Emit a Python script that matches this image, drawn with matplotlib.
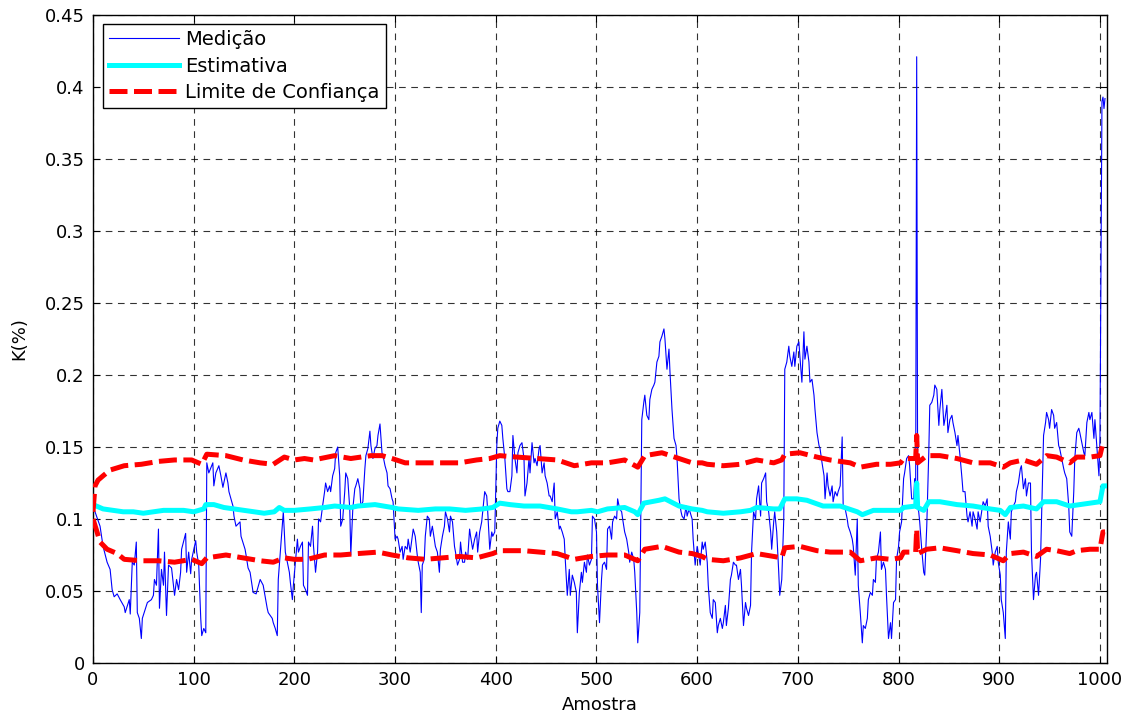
import matplotlib
matplotlib.use("Agg")
import matplotlib.pyplot as plt

plt.rcParams['font.family'] = ['DejaVu Sans']

# Measurement (Medição): sample index and K(%)
med_x = [0, 7, 10, 14, 17, 19, 21, 24, 27, 31, 32, 36, 37, 39, 41, 43, 44, 46, 48, 49,
         53, 54, 58, 60, 61, 63, 65, 66, 68, 70, 71, 73, 75, 78, 81, 83, 85, 87, 88, 92,
         93, 95, 97, 98, 102, 103, 105, 107, 108, 110, 112, 113, 115, 119, 120, 122, 125, 127, 129, 132,
         134, 135, 139, 140, 142, 146, 147, 151, 152, 154, 156, 159, 162, 166, 169, 173, 174, 178, 179, 181,
         183, 184, 188, 189, 191, 195, 196,
         198, 199, 203, 204, 206, 208, 209, 211, 213, 214, 216, 218, 219, 221, 223, 224, 226, 228, 230, 231,
         233, 235, 236, 238, 240, 241, 243, 245, 246, 248, 250, 251, 253, 255, 256, 258, 260, 261, 263, 265,
         266, 268, 270, 271, 273, 275, 276, 278, 280, 282, 283, 285, 287, 288, 290, 292, 293, 295, 297, 298,
         300, 302, 303, 305, 307, 308, 310, 312, 313, 315, 317, 318, 320, 322, 323, 325, 326, 327, 329, 330,
         332, 334, 335, 337, 339, 340, 342, 344, 345, 347, 349, 350, 352, 354, 355, 357, 359, 360, 362, 364,
         365, 367, 369, 370, 372, 374, 375, 377, 379, 381, 382, 384, 386, 387, 389, 391, 392, 394, 396, 397,
         399, 401, 402, 404, 406, 407,
         409, 411, 412, 414, 416, 417, 419, 421, 422, 424, 426, 428, 429, 431, 433, 434, 436, 438, 439, 441,
         443, 444, 446, 448, 449, 451, 453, 454, 456, 458, 459, 461, 463, 464, 466, 468, 469, 471, 473, 474,
         476, 478, 480, 481, 483, 485, 486, 488, 490, 491, 493, 495, 496, 498, 500, 501, 503, 505, 506, 508,
         510, 511, 513, 515, 516, 518, 520, 521, 523, 525, 526, 528, 530, 532, 533, 535, 537, 538, 540, 541,
         543, 545, 547, 548, 550, 552, 553, 555, 557, 558, 560, 562, 563, 565, 567, 568, 570, 572, 573, 575,
         577, 579, 580, 582, 584, 585, 587, 589, 590, 592,
         595, 596, 598, 600, 601, 603, 605, 606, 608, 610, 611, 613, 615, 616, 618, 620, 621, 623, 625, 626,
         628, 629, 631, 633, 634, 636, 638, 639, 641, 643, 644, 646, 648, 649, 651, 653, 654, 656, 658, 659,
         661, 663, 664, 666, 668, 669, 671, 673, 674, 676, 677, 679, 681, 682, 684, 686, 687, 689, 691, 692,
         694, 696, 697, 699, 701, 702, 704, 706, 707, 709, 711, 712, 714, 716, 717, 719, 721, 722, 724, 726,
         727, 729, 730, 732, 734, 735, 737, 739, 740, 742, 744, 745, 747, 749, 750, 752, 754, 755, 757, 759,
         760, 762, 764, 765, 767, 769, 770, 772, 774, 775, 777, 778, 780, 782, 783, 785, 787, 788, 790, 792,
         793, 795, 797, 798, 800, 801, 803, 805, 806, 808, 810, 811, 813, 815, 816, 817, 818, 819, 820, 821,
         823, 825, 826, 828, 830, 831, 833, 835, 836, 838, 840, 841, 843, 845, 846, 848, 849, 851, 853, 854,
         856, 858, 859, 861, 863, 864, 866, 868, 869, 871, 873, 874, 876, 878, 879, 881, 883, 884, 886, 888,
         889, 891, 893, 894, 896, 898, 899, 901, 902, 904, 906, 907, 909, 911, 912, 914, 916, 917, 919, 921,
         922, 924, 926, 927, 929, 931, 932, 934, 936, 937, 939, 941, 942, 944, 946, 947, 949, 950, 952, 954,
         955, 957, 959, 960, 962, 964, 965, 967, 969, 970, 972, 974, 975, 977, 979, 980, 982, 984, 985, 987,
         989, 990, 992, 994, 995, 997, 999, 1000, 1002, 1003, 1004, 1005]
med_y = [0.109, 0.095, 0.081, 0.070, 0.065, 0.051, 0.046, 0.048, 0.044, 0.039, 0.035, 0.044, 0.034, 0.070, 0.068, 0.084, 0.035, 0.031, 0.017, 0.031,
         0.040, 0.042, 0.044, 0.047, 0.058, 0.054, 0.093, 0.038, 0.065, 0.054, 0.077, 0.033, 0.068, 0.066, 0.047, 0.058, 0.051, 0.063, 0.079, 0.090,
         0.063, 0.077, 0.062, 0.072, 0.085, 0.077, 0.068, 0.031, 0.019, 0.024, 0.021, 0.139, 0.132, 0.139, 0.123, 0.132, 0.137, 0.130, 0.122, 0.132,
         0.125, 0.119, 0.109, 0.102, 0.095, 0.098, 0.088, 0.079, 0.075, 0.066, 0.063, 0.049, 0.048, 0.058, 0.054, 0.038, 0.035, 0.031, 0.028, 0.024,
         0.019, 0.058, 0.095, 0.105, 0.077, 0.063, 0.056,
         0.044, 0.054, 0.086, 0.077, 0.081, 0.084, 0.054, 0.051, 0.047, 0.084, 0.081, 0.095, 0.081, 0.063, 0.077, 0.100, 0.098, 0.109, 0.119, 0.125,
         0.119, 0.123, 0.119, 0.130, 0.135, 0.146, 0.150, 0.130, 0.095, 0.100, 0.119, 0.132, 0.128, 0.107, 0.075, 0.107, 0.121, 0.123, 0.128, 0.121,
         0.109, 0.112, 0.135, 0.144, 0.149, 0.161, 0.151, 0.142, 0.149, 0.151, 0.158, 0.166, 0.146, 0.144, 0.137, 0.132, 0.123, 0.121, 0.114, 0.112,
         0.086, 0.088, 0.086, 0.077, 0.081, 0.072, 0.081, 0.079, 0.086, 0.077, 0.088, 0.093, 0.088, 0.075, 0.070, 0.063, 0.035, 0.068, 0.072, 0.088,
         0.102, 0.100, 0.088, 0.095, 0.086, 0.081, 0.077, 0.063, 0.079, 0.088, 0.095, 0.105, 0.100, 0.091, 0.102, 0.098, 0.081, 0.077, 0.068, 0.072,
         0.084, 0.070, 0.070, 0.077, 0.072, 0.093, 0.088, 0.079, 0.086, 0.091, 0.077, 0.091, 0.098, 0.105, 0.119, 0.116, 0.105, 0.079, 0.091, 0.088,
         0.091, 0.151, 0.163, 0.168, 0.165, 0.156,
         0.142, 0.121, 0.119, 0.119, 0.130, 0.158, 0.142, 0.132, 0.146, 0.151, 0.153, 0.142, 0.116, 0.125, 0.142, 0.132, 0.153, 0.139, 0.142, 0.137,
         0.149, 0.151, 0.132, 0.139, 0.130, 0.125, 0.116, 0.116, 0.112, 0.125, 0.100, 0.105, 0.093, 0.095, 0.091, 0.086, 0.072, 0.047, 0.065, 0.047,
         0.061, 0.056, 0.049, 0.021, 0.049, 0.063, 0.056, 0.070, 0.063, 0.075, 0.068, 0.072, 0.102, 0.100, 0.091, 0.054, 0.028, 0.058, 0.068, 0.070,
         0.065, 0.093, 0.095, 0.086, 0.098, 0.102, 0.100, 0.114, 0.107, 0.105, 0.100, 0.091, 0.086, 0.077, 0.070, 0.077, 0.072, 0.063, 0.035, 0.014,
         0.035, 0.169, 0.181, 0.186, 0.172, 0.169, 0.183, 0.190, 0.193, 0.195, 0.209, 0.213, 0.223, 0.227, 0.232, 0.225, 0.204, 0.218, 0.202, 0.176,
         0.156, 0.151, 0.142, 0.114, 0.105, 0.102, 0.100, 0.109, 0.102, 0.107,
         0.100, 0.086, 0.068, 0.081, 0.077, 0.068, 0.084, 0.079, 0.084, 0.070, 0.054, 0.035, 0.031, 0.044, 0.042, 0.021, 0.026, 0.031, 0.024, 0.028,
         0.040, 0.026, 0.038, 0.058, 0.061, 0.070, 0.068, 0.068, 0.058, 0.065, 0.054, 0.026, 0.042, 0.038, 0.033, 0.040, 0.077, 0.105, 0.100, 0.114,
         0.123, 0.102, 0.125, 0.128, 0.132, 0.112, 0.105, 0.091, 0.079, 0.098, 0.105, 0.091, 0.063, 0.047, 0.058, 0.100, 0.204, 0.209, 0.220, 0.213,
         0.206, 0.216, 0.206, 0.220, 0.223, 0.213, 0.195, 0.230, 0.211, 0.220, 0.209, 0.195, 0.197, 0.186, 0.176, 0.160, 0.151, 0.149, 0.139, 0.130,
         0.114, 0.132, 0.123, 0.116, 0.123, 0.112, 0.119, 0.116, 0.119, 0.123, 0.157, 0.109, 0.107, 0.100, 0.095, 0.091, 0.086, 0.081, 0.061, 0.100,
         0.054, 0.035, 0.014, 0.026, 0.024, 0.031, 0.044, 0.049, 0.047, 0.058, 0.056, 0.072, 0.077, 0.091, 0.065, 0.070, 0.065, 0.047, 0.017, 0.028,
         0.017, 0.042, 0.044, 0.072, 0.081, 0.091, 0.098, 0.128, 0.132, 0.142, 0.144, 0.137, 0.114, 0.114, 0.128, 0.125, 0.421, 0.108, 0.105, 0.098,
         0.079, 0.063, 0.061, 0.095, 0.146, 0.179, 0.181, 0.186, 0.193, 0.190, 0.165, 0.176, 0.190, 0.165, 0.169, 0.179, 0.160, 0.169, 0.172, 0.167,
         0.160, 0.151, 0.158, 0.144, 0.128, 0.119, 0.119, 0.102, 0.098, 0.105, 0.095, 0.105, 0.100, 0.093, 0.105, 0.098, 0.107, 0.112, 0.109, 0.114,
         0.095, 0.088, 0.077, 0.068, 0.077, 0.081, 0.070, 0.061, 0.044, 0.035, 0.017, 0.077, 0.098, 0.086, 0.105, 0.109, 0.112, 0.119, 0.125, 0.135,
         0.137, 0.121, 0.128, 0.116, 0.125, 0.125, 0.077, 0.044, 0.061, 0.063, 0.047, 0.072, 0.100, 0.158, 0.167, 0.174, 0.169, 0.163, 0.176, 0.172,
         0.163, 0.167, 0.151, 0.149, 0.142, 0.135, 0.132, 0.128, 0.109, 0.091, 0.088, 0.119, 0.142, 0.160, 0.163, 0.160, 0.153, 0.146, 0.144, 0.167,
         0.174, 0.169, 0.174, 0.156, 0.169, 0.149, 0.130, 0.156, 0.390, 0.393, 0.385, 0.392]

# Estimate (Estimativa)
est_x = [0, 10, 20, 30, 40, 50, 60, 70, 80, 90, 100, 110, 112, 120, 130, 140, 150, 160, 170, 180,
         185, 190, 200, 216, 230, 240, 256, 263, 280, 297, 303, 323, 340, 354, 370, 387, 397, 404, 414, 428,
         444, 461, 475, 481, 495, 501, 511, 528, 538, 541, 547, 562, 568, 582, 595, 605, 610, 626, 643, 653,
         659, 676, 682, 687, 699, 709, 725, 742, 759, 764, 775, 785, 802, 805, 817, 818, 819, 825, 830, 841,
         858, 874, 891, 901, 906, 911, 924, 937, 944, 957, 970, 990, 1000, 1003, 1005]
est_y = [0.110, 0.107, 0.106, 0.105, 0.105, 0.104, 0.105, 0.106, 0.106, 0.106, 0.105, 0.107, 0.110, 0.110, 0.108, 0.107, 0.106, 0.105, 0.104, 0.105,
         0.108, 0.106, 0.106, 0.107, 0.108, 0.109, 0.108, 0.109, 0.110, 0.108, 0.107, 0.106, 0.107, 0.107, 0.106, 0.107, 0.108, 0.111, 0.110, 0.109,
         0.109, 0.107, 0.105, 0.105, 0.106, 0.105, 0.107, 0.108, 0.105, 0.103, 0.111, 0.113, 0.114, 0.109, 0.107, 0.106, 0.105, 0.104, 0.105, 0.106,
         0.108, 0.107, 0.107, 0.114, 0.114, 0.113, 0.109, 0.109, 0.105, 0.103, 0.106, 0.106, 0.106, 0.108, 0.109, 0.125, 0.108, 0.106, 0.112, 0.112,
         0.110, 0.109, 0.107, 0.106, 0.103, 0.108, 0.109, 0.107, 0.112, 0.112, 0.109, 0.111, 0.112, 0.123, 0.123]

# Upper confidence limit
up_x = [0, 2, 5, 10, 17, 31, 48, 65, 81, 98, 108, 113, 132, 149, 166, 179, 190, 200, 210, 219,
        240, 256, 276, 287, 297, 310, 330, 347, 364, 381, 394, 404, 421, 441, 461, 478, 495, 511, 528, 541,
        548, 565, 582, 595, 605, 610, 626, 643, 659, 676, 684, 687, 702, 719, 732, 752, 762, 778, 792, 802,
        805, 817, 818, 819, 828, 841, 858, 874, 891, 904, 911, 924, 937, 947, 957, 970, 977, 990, 1000, 1003,
        1005]
up_y = [0.105, 0.123, 0.127, 0.130, 0.134, 0.137, 0.138, 0.140, 0.141, 0.141, 0.138, 0.145, 0.144, 0.141, 0.139, 0.138, 0.143, 0.141, 0.142, 0.141,
        0.144, 0.142, 0.144, 0.144, 0.142, 0.139, 0.139, 0.139, 0.139, 0.141, 0.142, 0.144, 0.143, 0.142, 0.141, 0.137, 0.139, 0.139, 0.141, 0.136,
        0.144, 0.146, 0.142, 0.139, 0.139, 0.138, 0.137, 0.138, 0.141, 0.139, 0.141, 0.145, 0.146, 0.143, 0.141, 0.139, 0.136, 0.138, 0.138, 0.139,
        0.142, 0.142, 0.158, 0.139, 0.144, 0.144, 0.142, 0.139, 0.139, 0.136, 0.139, 0.141, 0.138, 0.144, 0.143, 0.139, 0.143, 0.143, 0.144, 0.153,
        0.154]

# Lower confidence limit
lo_x = [0, 4, 7, 14, 24, 31, 48, 65, 81, 98, 108, 113, 132, 149, 166, 179, 190, 200, 213, 230,
        246, 263, 283, 297, 313, 330, 347, 364, 381, 397, 404, 411, 428, 444, 461, 478, 495, 511, 528, 541,
        548, 565, 582, 595, 605, 610, 626, 643, 659, 676, 684, 687, 702, 719, 732, 752, 762, 778, 792, 802,
        805, 817, 818, 819, 828, 841, 858, 874, 891, 904, 911, 924, 937, 947, 957, 970, 977, 990, 1000, 1003,
        1005]
lo_y = [0.100, 0.091, 0.084, 0.079, 0.076, 0.072, 0.071, 0.071, 0.070, 0.072, 0.069, 0.073, 0.075, 0.073, 0.071, 0.070, 0.073, 0.072, 0.072, 0.075,
        0.075, 0.076, 0.077, 0.075, 0.073, 0.072, 0.073, 0.074, 0.073, 0.076, 0.078, 0.078, 0.078, 0.077, 0.076, 0.072, 0.074, 0.075, 0.075, 0.071,
        0.079, 0.081, 0.077, 0.076, 0.074, 0.072, 0.071, 0.073, 0.076, 0.074, 0.073, 0.080, 0.081, 0.078, 0.077, 0.077, 0.071, 0.073, 0.072, 0.073,
        0.077, 0.077, 0.093, 0.076, 0.079, 0.080, 0.078, 0.076, 0.075, 0.071, 0.076, 0.077, 0.074, 0.079, 0.078, 0.076, 0.078, 0.079, 0.079, 0.091,
        0.091]

y_ticks = [0, 0.05, 0.1, 0.15, 0.2, 0.25, 0.3, 0.35, 0.4, 0.45]
y_tick_labels = ['0', '0.05', '0.1', '0.15', '0.2', '0.25', '0.3', '0.35', '0.4', '0.45']
x_ticks = [0, 100, 200, 300, 400, 500, 600, 700, 800, 900, 1000]

fig = plt.figure(figsize=(11.27, 7.17), dpi=100)
ax = fig.add_axes([93 / 1127, 54 / 717, 1014 / 1127, 648 / 717])

ax.plot(med_x, med_y, color='#0000ff', linewidth=0.8, label='Medição', zorder=3)
ax.plot(est_x, est_y, color='#00ffff', linewidth=3.6, label='Estimativa', zorder=4)
ax.plot(up_x, up_y, color='#ff0000', linewidth=3.6, dashes=(3.6, 1.3), label='Limite de Confiança', zorder=5)
ax.plot(lo_x, lo_y, color='#ff0000', linewidth=3.6, dashes=(3.6, 1.3), zorder=5)

ax.set_xlim(0, 1007)
ax.set_ylim(0, 0.45)
ax.set_xticks(x_ticks)
ax.set_yticks(y_ticks)
ax.set_yticklabels(y_tick_labels)
ax.tick_params(direction='in', length=5, width=0.8, labelsize=13, top=True, right=True, pad=6)
ax.grid(True, color='black', linestyle=(0, (6, 5)), linewidth=0.8, alpha=0.8)
for s in ax.spines.values():
    s.set_linewidth(1.0)
    s.set_color('black')

ax.set_xlabel('Amostra', fontsize=13, labelpad=5)
ax.set_ylabel('K(%)', fontsize=13, labelpad=12)

leg = ax.legend(loc='upper left', bbox_to_anchor=(0.0099, 0.986), borderaxespad=0,
                fancybox=False, framealpha=1, edgecolor='black', fontsize=14,
                handlelength=3.6, handletextpad=0.3, labelspacing=0.38, borderpad=0.32)
leg.get_frame().set_linewidth(1.0)

fig.savefig('out.png', dpi=100)
